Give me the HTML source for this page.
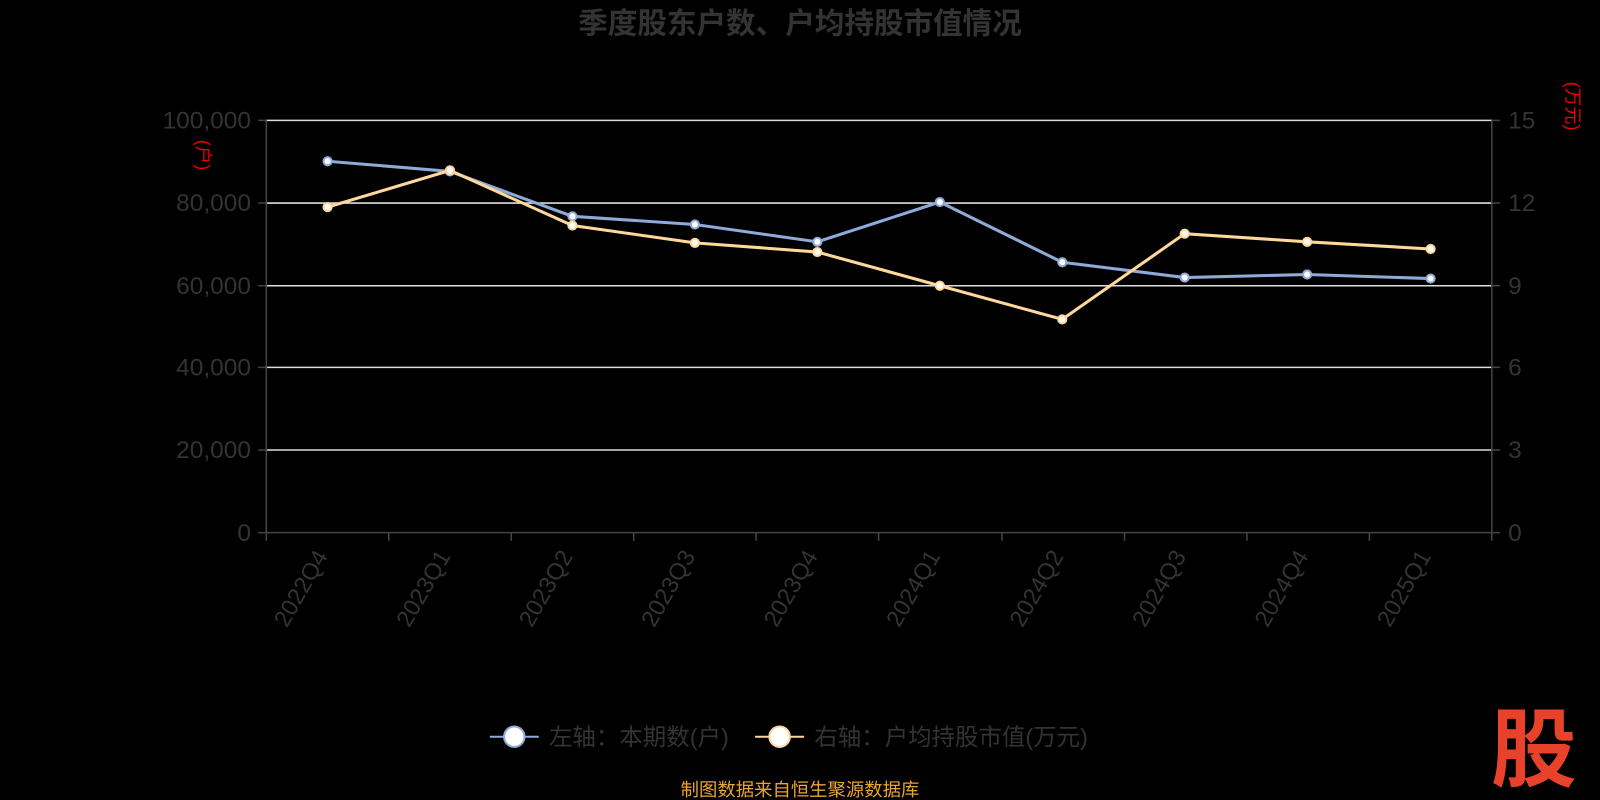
<!DOCTYPE html>
<html><head><meta charset="utf-8"><style>
html,body{margin:0;padding:0;background:#000;}
svg{display:block;font-family:"Liberation Sans","Noto Sans CJK SC",sans-serif;}
</style></head><body>
<svg width="1600" height="800" viewBox="0 0 1568 784" preserveAspectRatio="none">
<rect width="1568" height="784" fill="#000"/>
<text x="784" y="33" text-anchor="middle" font-size="29" font-weight="bold" fill="#333">季度股东户数、户均持股市值情况</text>
<g stroke="#ddd" stroke-width="1.5">
<line x1="261" y1="118" x2="1462" y2="118"/>
<line x1="261" y1="199" x2="1462" y2="199"/>
<line x1="261" y1="280" x2="1462" y2="280"/>
<line x1="261" y1="360" x2="1462" y2="360"/>
<line x1="261" y1="441" x2="1462" y2="441"/>
</g>
<g stroke="#444" stroke-width="1.5">
<line x1="261" y1="118" x2="261" y2="522"/>
<line x1="1462" y1="118" x2="1462" y2="522"/>
<line x1="261" y1="522" x2="1462" y2="522"/>
<line x1="253" y1="118" x2="261" y2="118"/><line x1="253" y1="199" x2="261" y2="199"/><line x1="253" y1="280" x2="261" y2="280"/><line x1="253" y1="360" x2="261" y2="360"/><line x1="253" y1="441" x2="261" y2="441"/><line x1="253" y1="522" x2="261" y2="522"/>
<line x1="1462" y1="118" x2="1470" y2="118"/><line x1="1462" y1="199" x2="1470" y2="199"/><line x1="1462" y1="280" x2="1470" y2="280"/><line x1="1462" y1="360" x2="1470" y2="360"/><line x1="1462" y1="441" x2="1470" y2="441"/><line x1="1462" y1="522" x2="1470" y2="522"/>
<line x1="261" y1="522" x2="261" y2="530"/><line x1="381" y1="522" x2="381" y2="530"/><line x1="501" y1="522" x2="501" y2="530"/><line x1="621" y1="522" x2="621" y2="530"/><line x1="741" y1="522" x2="741" y2="530"/><line x1="861" y1="522" x2="861" y2="530"/><line x1="982" y1="522" x2="982" y2="530"/><line x1="1102" y1="522" x2="1102" y2="530"/><line x1="1222" y1="522" x2="1222" y2="530"/><line x1="1342" y1="522" x2="1342" y2="530"/><line x1="1462" y1="522" x2="1462" y2="530"/>
</g>
<g font-size="24" fill="#333" text-anchor="end">
<text x="246" y="126">100,000</text><text x="246" y="207">80,000</text><text x="246" y="288">60,000</text><text x="246" y="368">40,000</text><text x="246" y="449">20,000</text><text x="246" y="530">0</text>
</g>
<g font-size="24" fill="#333" text-anchor="start">
<text x="1478" y="126">15</text><text x="1478" y="207">12</text><text x="1478" y="288">9</text><text x="1478" y="368">6</text><text x="1478" y="449">3</text><text x="1478" y="530">0</text>
</g>
<text x="0" y="0" font-size="18" fill="#e00" transform="translate(193,152) rotate(90)" text-anchor="middle">(户)</text>
<text x="0" y="0" font-size="18" fill="#e00" transform="translate(1535,104) rotate(90)" text-anchor="middle">(万元)</text>
<g font-size="23" fill="#333" text-anchor="end">
<text transform="translate(322,545) rotate(-60)">2022Q4</text>
<text transform="translate(442,545) rotate(-60)">2023Q1</text>
<text transform="translate(562,545) rotate(-60)">2023Q2</text>
<text transform="translate(682,545) rotate(-60)">2023Q3</text>
<text transform="translate(802,545) rotate(-60)">2023Q4</text>
<text transform="translate(922,545) rotate(-60)">2024Q1</text>
<text transform="translate(1043,545) rotate(-60)">2024Q2</text>
<text transform="translate(1163,545) rotate(-60)">2024Q3</text>
<text transform="translate(1283,545) rotate(-60)">2024Q4</text>
<text transform="translate(1403,545) rotate(-60)">2025Q1</text>
</g>
<polyline fill="none" stroke="#8eaad8" stroke-width="3" points="321,158 441,168 561,212 681,220 801,237 921,198 1041,257 1161,272 1281,269 1402,273"/>
<g fill="#fff" stroke="#8eaad8" stroke-width="2">
<circle cx="321" cy="158" r="4"/><circle cx="441" cy="168" r="4"/><circle cx="561" cy="212" r="4"/><circle cx="681" cy="220" r="4"/><circle cx="801" cy="237" r="4"/><circle cx="921" cy="198" r="4"/><circle cx="1041" cy="257" r="4"/><circle cx="1161" cy="272" r="4"/><circle cx="1281" cy="269" r="4"/><circle cx="1402" cy="273" r="4"/>
</g>
<polyline fill="none" stroke="#fdd89a" stroke-width="3" points="321,203 441,167 561,221 681,238 801,247 921,280 1041,313 1161,229 1281,237 1402,244"/>
<g fill="#fff" stroke="#fdd89a" stroke-width="2">
<circle cx="321" cy="203" r="4"/><circle cx="441" cy="167" r="4"/><circle cx="561" cy="221" r="4"/><circle cx="681" cy="238" r="4"/><circle cx="801" cy="247" r="4"/><circle cx="921" cy="280" r="4"/><circle cx="1041" cy="313" r="4"/><circle cx="1161" cy="229" r="4"/><circle cx="1281" cy="237" r="4"/><circle cx="1402" cy="244" r="4"/>
</g>
<line x1="480" y1="722" x2="528" y2="722" stroke="#8eaad8" stroke-width="2"/>
<circle cx="504" cy="722" r="10" fill="#fff" stroke="#8eaad8" stroke-width="2"/>
<text x="538" y="730" font-size="23" fill="#333">左轴：本期数(户)</text>
<line x1="740" y1="722" x2="788" y2="722" stroke="#fdd89a" stroke-width="2"/>
<circle cx="764" cy="722" r="10" fill="#fff" stroke="#fdd89a" stroke-width="2"/>
<text x="798" y="730" font-size="23" fill="#333">右轴：户均持股市值(万元)</text>
<text x="784" y="780" font-size="18" fill="#e8a530" text-anchor="middle">制图数据来自恒生聚源数据库</text>
<text x="1503" y="764" font-size="84" font-weight="bold" fill="#e8432a" text-anchor="middle">股</text>
</svg>
</body></html>
